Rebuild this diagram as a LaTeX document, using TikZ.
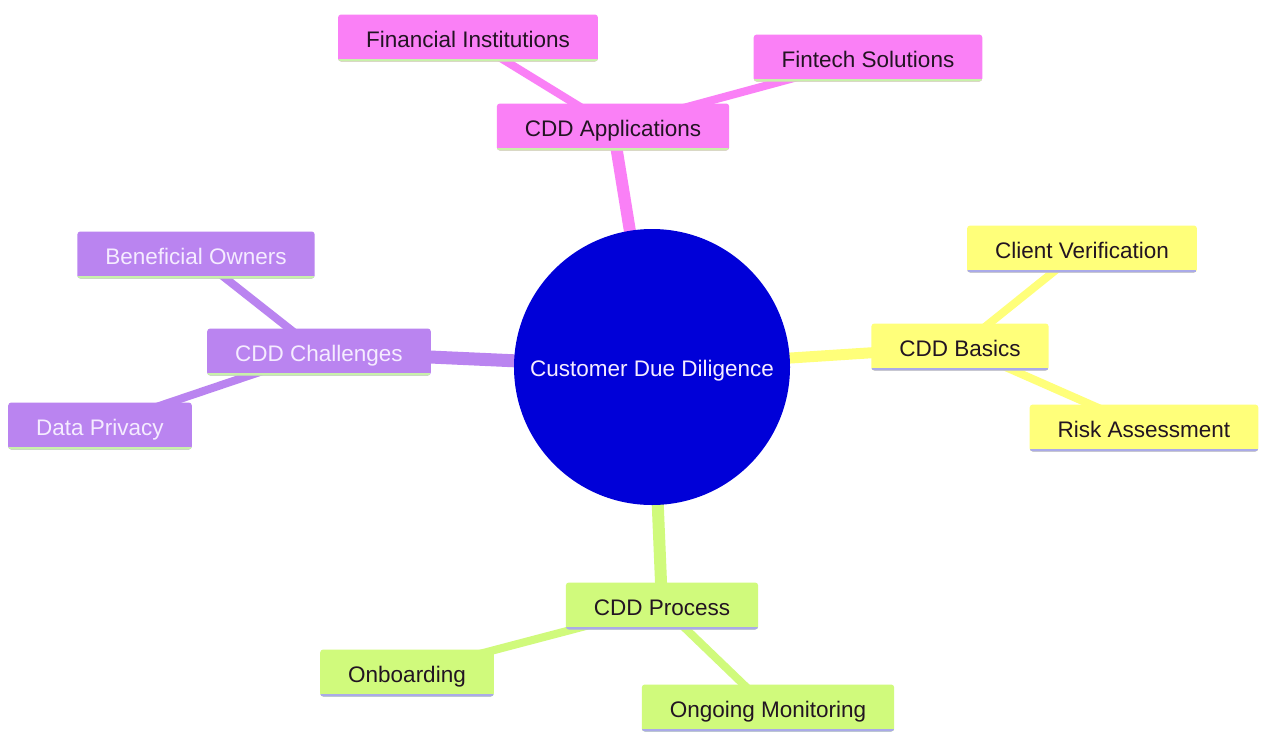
\documentclass[tikz,border=0pt]{standalone}
\usepackage{fontspec}
\setmainfont{Liberation Sans}
\usetikzlibrary{backgrounds}
\definecolor{pinkc}{RGB}{250,128,246}
\definecolor{yelc}{RGB}{255,255,122}
\definecolor{purc}{RGB}{186,132,240}
\definecolor{grnc}{RGB}{208,250,124}
\definecolor{bluec}{RGB}{0,0,216}
\definecolor{lgreen}{RGB}{200,240,170}
\definecolor{lav}{RGB}{170,170,232}
\definecolor{darktxt}{RGB}{34,20,34}
\definecolor{lighttxt}{RGB}{245,236,255}
\tikzset{
  box/.style={rectangle, rounded corners=3pt, minimum height=47pt, inner xsep=28pt,
    text height=18pt, text depth=0pt,
    font=\fontsize{22.5}{27}\selectfont, text=darktxt},
  pinkbox/.style={box, fill=pinkc, path picture={\draw[lgreen, line width=5pt]
    (path picture bounding box.south west) -- (path picture bounding box.south east);}},
  yelbox/.style={box, fill=yelc, path picture={\draw[lav, line width=5pt]
    (path picture bounding box.south west) -- (path picture bounding box.south east);}},
  purbox/.style={box, fill=purc, text=lighttxt, path picture={\draw[lgreen, line width=5pt]
    (path picture bounding box.south west) -- (path picture bounding box.south east);}},
  grnbox/.style={box, fill=grnc, path picture={\draw[lav, line width=5pt]
    (path picture bounding box.south west) -- (path picture bounding box.south east);}},
  mainedge/.style={line width=12pt},
  subedge/.style={line width=8pt},
}
\begin{document}
\begin{tikzpicture}[x=1pt,y=-1pt]
\useasboundingbox (0,0) rectangle (1261,734);
\node[circle, fill=bluec, minimum size=276pt, inner sep=0pt, text=lighttxt,
  text height=18pt, text depth=0pt,
  font=\fontsize{22.5}{27}\selectfont] (root) at (652,367) {Customer Due Diligence};
% Applications
\node[pinkbox] (app) at (613,127) {CDD Applications};
\node[pinkbox] (fin) at (468,38) {Financial Institutions};
\node[pinkbox] (fint) at (868,58) {Fintech Solutions};
% Basics
\node[yelbox] (bas) at (960,347) {CDD Basics};
\node[yelbox] (cli) at (1082,249) {Client Verification};
\node[yelbox] (risk) at (1144,428) {Risk Assessment};
% Challenges
\node[purbox] (cha) at (319,352) {CDD Challenges};
\node[purbox] (ben) at (196,255) {Beneficial Owners};
\node[purbox] (dat) at (100,426) {Data Privacy};
% Process
\node[grnbox] (pro) at (662,606) {CDD Process};
\node[grnbox] (onb) at (407,673) {Onboarding};
\node[grnbox] (ong) at (768,708) {Ongoing Monitoring};
\begin{scope}[on background layer]
\fill[white] (0,0) rectangle (1261,734);
\draw[pinkc, mainedge] (root.center) -- (app.center);
\draw[pinkc, subedge] (app.center) -- (fin.center);
\draw[pinkc, subedge] (app.center) -- (fint.center);
\draw[yelc, line width=11pt] (root.center) -- (bas.center);
\draw[yelc, subedge] (bas.center) -- (cli.center);
\draw[yelc, subedge] (bas.center) -- (risk.center);
\draw[purc, line width=13pt] (root.center) -- (cha.center);
\draw[purc, subedge] (cha.center) -- (ben.center);
\draw[purc, subedge] (cha.center) -- (dat.center);
\draw[grnc, mainedge] (root.center) -- (pro.center);
\draw[grnc, subedge] (pro.center) -- (onb.center);
\draw[grnc, subedge] (pro.center) -- (ong.center);
\end{scope}
\end{tikzpicture}
\end{document}
